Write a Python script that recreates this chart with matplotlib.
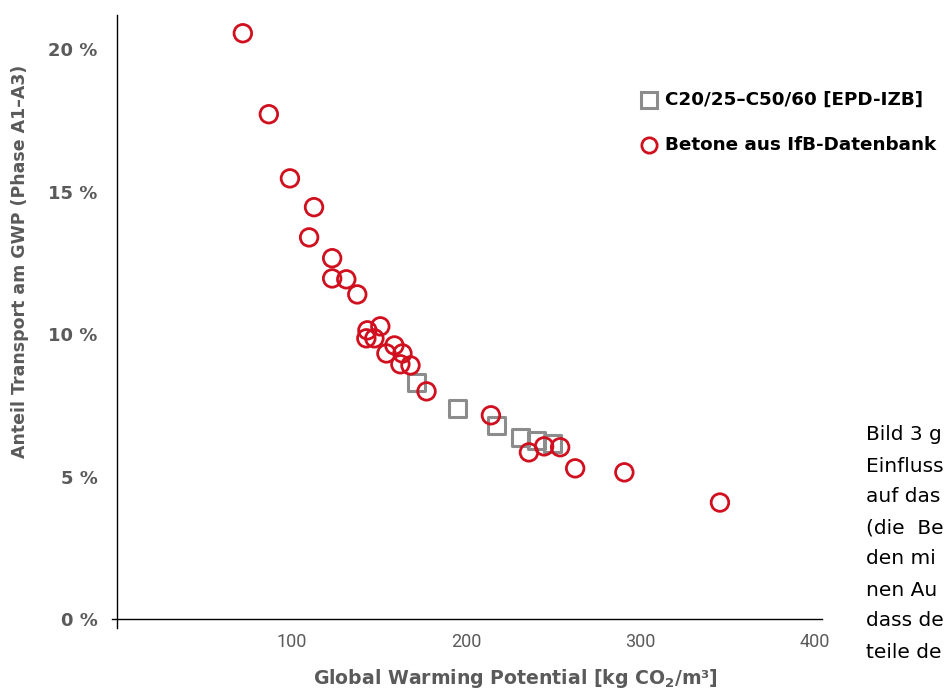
import matplotlib
matplotlib.use("Agg")
import matplotlib.pyplot as plt

plt.rcParams['font.family'] = ['DejaVu Sans']

# Data
epd_gwp = [171.6, 195.2, 217.6, 231.4, 240.1, 249.3]
epd_share = [8.32, 7.40, 6.81, 6.39, 6.28, 6.18]

ifb_gwp = [72.0, 86.9, 99.0, 112.8, 110.0, 123.2, 123.2, 131.3, 137.6, 150.8,
           143.4, 142.8, 147.4, 158.9, 154.3, 163.5, 162.3, 168.1, 177.3, 214.2,
           236.0, 244.7, 253.9, 262.5, 290.7, 345.5]
ifb_share = [20.56, 17.72, 15.47, 14.46, 13.40, 12.67, 11.96, 11.93, 11.40, 10.28,
             10.14, 9.86, 9.86, 9.61, 9.33, 9.33, 8.95, 8.91, 8.00, 7.16,
             5.86, 6.07, 6.04, 5.30, 5.16, 4.10]

x_ticks = [100, 200, 300, 400]
y_ticks = [0, 5, 10, 15, 20]
y_tick_labels = ["0 %", "5 %", "10 %", "15 %", "20 %"]

label_epd = "C20/25–C50/60 [EPD-IZB]"
label_ifb = "Betone aus IfB-Datenbank"

side_text = ["Bild 3 g", "Einfluss", "auf das", "(die  Be", "den mi",
             "nen Au", "dass de", "teile de"]

red = "#d0101f"
gray = "#8c8c8c"
label_gray = "#5a5a5a"

W, H = 947, 691
fig = plt.figure(figsize=(W / 100, H / 100), dpi=100)
ax = fig.add_axes([112 / W, 1 - 628 / H, (822 - 112) / W, (628 - 15) / H])
ax.set_xlim(-3, 404)
ax.set_ylim(-0.3, 21.2)

ax.scatter(epd_gwp, epd_share, marker='s', s=150, facecolors='none',
           edgecolors=gray, linewidths=2.2, zorder=3)
ax.scatter(ifb_gwp, ifb_share, marker='o', s=160, facecolors='none',
           edgecolors=red, linewidths=2.0, zorder=4)

for s in ['top', 'right']:
    ax.spines[s].set_visible(False)
ax.spines['left'].set_position(('data', 0))
ax.spines['bottom'].set_position(('data', 0))
for s in ['left', 'bottom']:
    ax.spines[s].set_color('black')
    ax.spines[s].set_linewidth(1.0)
ax.spines['left'].set_bounds(-0.3, 21.2)
ax.spines['bottom'].set_bounds(-3, 404)

ax.set_xticks(x_ticks)
ax.set_xticklabels([str(v) for v in x_ticks], fontsize=13, color=label_gray,
                   family=['Roboto', 'DejaVu Sans'])
ax.set_yticks(y_ticks)
ax.set_yticklabels(y_tick_labels, fontsize=13, fontweight='bold', color=label_gray)
ax.tick_params(axis='y', length=0, pad=14)
ax.tick_params(axis='x', length=0, pad=10)

fig.text(515 / W, 1 - 678 / H, "Global Warming Potential [kg CO$_\\mathregular{2}$/m³]",
         ha='center', va='center', fontsize=13.6, fontweight='bold', color=label_gray)
fig.text(20 / W, 1 - 261 / H, "Anteil Transport am GWP (Phase A1–A3)",
         ha='center', va='center', rotation=90, fontsize=12.5, fontweight='bold',
         color=label_gray)

# Legend drawn manually
fig.lines.append(plt.Line2D([649 / W], [1 - 100 / H], transform=fig.transFigure,
                            marker='s', markersize=11, markerfacecolor='none',
                            markeredgecolor=gray, markeredgewidth=2.2, linestyle='none'))
fig.lines.append(plt.Line2D([649 / W], [1 - 145 / H], transform=fig.transFigure,
                            marker='o', markersize=11, markerfacecolor='none',
                            markeredgecolor=red, markeredgewidth=2.0, linestyle='none'))
fig.text(665 / W, 1 - 100 / H, label_epd, ha='left', va='center', fontsize=13.2,
         fontweight='bold', color='black')
fig.text(665 / W, 1 - 145 / H, label_ifb, ha='left', va='center', fontsize=13.2,
         fontweight='bold', color='black')

# Body text at right (fragments visible in the reference)
for i, line in enumerate(side_text):
    fig.text(866 / W, 1 - (435 + i * 31) / H, line, ha='left', va='center',
             fontsize=14.5, color='black')

fig.savefig("out.png", dpi=100)
